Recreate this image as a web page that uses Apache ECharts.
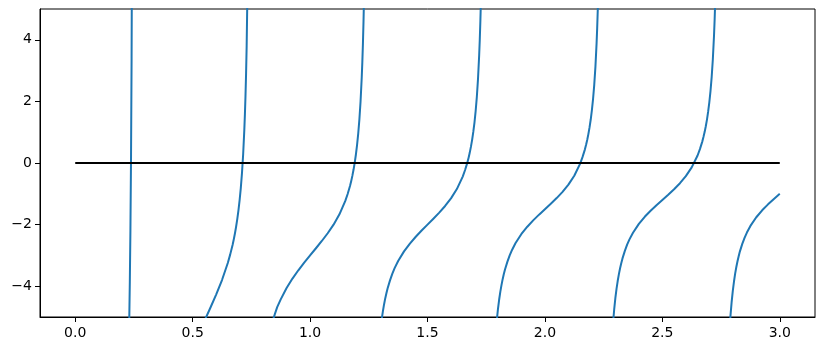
<!DOCTYPE html>
<html>
<head>
<meta charset="utf-8">
<script src="https://cdn.jsdelivr.net/npm/echarts@6/dist/echarts.min.js"></script>
<style>
html,body{margin:0;padding:0;background:#fff;}
#chart{width:825px;height:351px;}
</style>
</head>
<body>
<div id="chart"></div>
<script>
// Branches of the blue curve (x values and y values)
var branch0X = [0.225, 0.23, 0.2325, 0.235, 0.2375, 0.24, 0.2425];
var branch0Y = [-7.02, -5.13, -3.85, -2.19, 0.07, 3.39, 8.83];

var branch1X = [0.5, 0.525, 0.55, 0.575, 0.6, 0.625, 0.65, 0.66, 0.67, 0.675, 0.68, 0.685, 0.69, 0.695, 0.7, 0.705, 0.71, 0.715, 0.72, 0.7225, 0.725, 0.7275, 0.73, 0.735, 0.74];
var branch1Y = [-6, -5.556, -5.13, -4.708, -4.273, -3.8, -3.239, -2.967, -2.66, -2.482, -2.288, -2.069, -1.822, -1.538, -1.208, -0.813, -0.331, 0.278, 1.075, 1.578, 2.176, 2.903, 3.806, 6.497, 11.84];

var branch2X = [0.8, 0.81, 0.825, 0.83, 0.84, 0.85, 0.86, 0.875, 0.9, 0.925, 0.95, 0.975, 1.0, 1.025, 1.05, 1.075, 1.1, 1.125, 1.15, 1.16, 1.17, 1.175, 1.18, 1.185, 1.19, 1.195, 1.2, 1.205, 1.21, 1.215, 1.22, 1.2225, 1.225, 1.2275, 1.23, 1.235];
var branch2Y = [-6.828, -6.229, -5.599, -5.432, -5.15, -4.906, -4.68, -4.429, -4.06, -3.753, -3.483, -3.235, -3, -2.768, -2.532, -2.281, -2.001, -1.667, -1.232, -1.007, -0.747, -0.591, -0.419, -0.221, 0.005, 0.268, 0.578, 0.952, 1.415, 2.005, 2.783, 3.276, 3.865, 4.582, 5.477, 8.15];

var branch3X = [1.275, 1.29, 1.295, 1.3, 1.305, 1.31, 1.315, 1.32, 1.325, 1.33, 1.34, 1.35, 1.36, 1.375, 1.4, 1.425, 1.45, 1.475, 1.5, 1.525, 1.55, 1.575, 1.6, 1.625, 1.65, 1.66, 1.67, 1.675, 1.68, 1.685, 1.69, 1.695, 1.7, 1.705, 1.71, 1.715, 1.72, 1.7225, 1.725, 1.7275, 1.73, 1.735];
var branch3Y = [-8.667, -6.22, -5.759, -5.385, -5.077, -4.816, -4.592, -4.397, -4.227, -4.073, -3.818, -3.599, -3.415, -3.182, -2.869, -2.615, -2.394, -2.192, -2, -1.809, -1.611, -1.395, -1.148, -0.846, -0.442, -0.228, 0.021, 0.172, 0.338, 0.531, 0.751, 1.008, 1.313, 1.683, 2.14, 2.724, 3.498, 3.988, 4.575, 5.29, 6.182, 8.85];

var branch4X = [1.775, 1.785, 1.79, 1.795, 1.8, 1.805, 1.81, 1.815, 1.82, 1.825, 1.83, 1.84, 1.85, 1.86, 1.875, 1.9, 1.925, 1.95, 1.975, 2.0, 2.025, 2.05, 2.075, 2.1, 2.125, 2.15, 2.16, 2.17, 2.175, 2.18, 2.185, 2.19, 2.195, 2.2, 2.205, 2.21, 2.215, 2.22, 2.2225, 2.225, 2.2275, 2.23, 2.235];
var branch4Y = [-8.004, -6.154, -5.571, -5.113, -4.744, -4.44, -4.183, -3.964, -3.772, -3.606, -3.457, -3.209, -2.998, -2.822, -2.6, -2.305, -2.068, -1.863, -1.677, -1.5, -1.323, -1.139, -0.936, -0.702, -0.412, -0.019, 0.19, 0.435, 0.583, 0.748, 0.938, 1.156, 1.412, 1.714, 2.082, 2.537, 3.119, 3.891, 4.38, 4.966, 5.68, 6.571, 9.237];

var branch5X = [2.275, 2.285, 2.29, 2.295, 2.3, 2.305, 2.31, 2.315, 2.32, 2.325, 2.33, 2.34, 2.35, 2.36, 2.375, 2.4, 2.425, 2.45, 2.475, 2.5, 2.525, 2.55, 2.575, 2.6, 2.625, 2.65, 2.66, 2.67, 2.675, 2.68, 2.685, 2.69, 2.695, 2.7, 2.705, 2.71, 2.715, 2.72, 2.7225, 2.725, 2.7275, 2.73, 2.735];
var branch5Y = [-7.633, -5.787, -5.205, -4.749, -4.382, -4.08, -3.824, -3.607, -3.417, -3.253, -3.105, -2.861, -2.653, -2.48, -2.263, -1.977, -1.747, -1.549, -1.37, -1.2, -1.03, -0.852, -0.656, -0.427, -0.143, 0.244, 0.451, 0.694, 0.841, 1.004, 1.194, 1.41, 1.665, 1.967, 2.333, 2.788, 3.369, 4.139, 4.628, 5.213, 5.927, 6.817, 9.482];

var branch6X = [2.775, 2.785, 2.79, 2.795, 2.8, 2.805, 2.81, 2.815, 2.82, 2.825, 2.83, 2.84, 2.85, 2.86, 2.875, 2.9, 2.925, 2.95, 2.975, 3.0];
var branch6Y = [-7.395, -5.551, -4.97, -4.515, -4.149, -3.848, -3.593, -3.377, -3.188, -3.025, -2.877, -2.635, -2.429, -2.258, -2.043, -1.761, -1.535, -1.342, -1.167, -1.0];

// Horizontal zero reference line
var zeroLineX = [0, 3];
var zeroLineY = [0, 0];

// Tick labels
var xTicks = [0, 0.5, 1.0, 1.5, 2.0, 2.5, 3.0];
var yTicks = [-4, -2, 0, 2, 4];

function zip(xs, ys) {
  var out = [];
  for (var i = 0; i < xs.length; i++) out.push([xs[i], ys[i]]);
  return out;
}

var branches = [
  [branch0X, branch0Y], [branch1X, branch1Y], [branch2X, branch2Y],
  [branch3X, branch3Y], [branch4X, branch4Y], [branch5X, branch5Y],
  [branch6X, branch6Y]
];

var series = branches.map(function (b) {
  return {
    type: 'line',
    data: zip(b[0], b[1]),
    showSymbol: false,
    symbol: 'none',
    smooth: false,
    clip: true,
    lineStyle: { color: '#1f77b4', width: 2, join: 'round', cap: 'butt' },
    z: 2
  };
});
series.push({
  type: 'line',
  data: zip(zeroLineX, zeroLineY),
  symbol: 'none',
  clip: true,
  lineStyle: { color: '#000000', width: 2 },
  z: 3
});

var font = 'DejaVu Sans';
var chart = echarts.init(document.getElementById('chart'), null, { renderer: 'canvas' });
chart.setOption({
  animation: false,
  backgroundColor: '#ffffff',
  grid: {
    left: 40, right: 10, top: 9, bottom: 34,
    show: true, borderColor: '#000', borderWidth: 1, backgroundColor: 'transparent'
  },
  xAxis: {
    type: 'value',
    min: -0.15, max: 3.15,
    axisLine: { show: true, onZero: false, lineStyle: { color: '#000', width: 1 } },
    axisTick: { show: true, inside: false, length: 5, customValues: xTicks, lineStyle: { color: '#000', width: 1 } },
    axisLabel: {
      show: true, customValues: xTicks, margin: 9,
      fontFamily: font, fontSize: 14, color: '#000',
      formatter: function (v) { return Number(v).toFixed(1); }
    },
    splitLine: { show: false }
  },
  yAxis: {
    type: 'value',
    min: -5, max: 5,
    axisLine: { show: true, onZero: false, lineStyle: { color: '#000', width: 1 } },
    axisTick: { show: true, inside: false, length: 5, customValues: yTicks, lineStyle: { color: '#000', width: 1 } },
    axisLabel: {
      show: true, customValues: yTicks, margin: 8,
      fontFamily: font, fontSize: 14, color: '#000',
      formatter: function (v) { return String(v).replace('-', '\u2212'); }
    },
    splitLine: { show: false }
  },
  series: series
});
</script>
</body>
</html>
